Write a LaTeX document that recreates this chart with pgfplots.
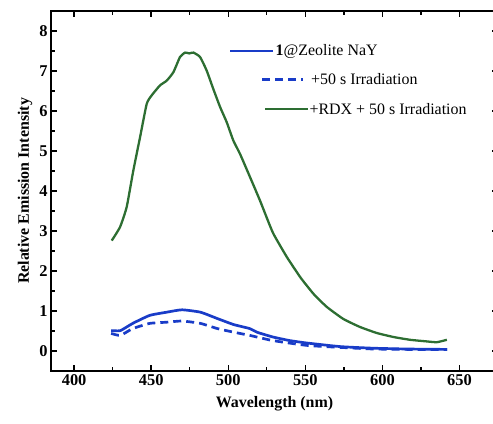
\documentclass[border=0pt]{standalone}
\usepackage{pgfplots}
\pgfplotsset{compat=1.18}
\usepackage{fontspec}
\setmainfont{Liberation Serif}

\definecolor{specblue}{RGB}{25,60,200}
\definecolor{specgreen}{RGB}{45,110,50}

\begin{document}
\begin{tikzpicture}[x=1bp,y=1bp]
\useasboundingbox (0,0) rectangle (493,423);
\begin{axis}[
  at={(51bp,52bp)}, anchor=south west,
  scale only axis, width=447bp, height=360bp,
  xmin=385, xmax=675, ymin=-0.5, ymax=8.5,
  xtick={400,450,...,650}, ytick={0,1,...,8},
  minor x tick num=1, minor y tick num=1,
  tick align=inside, tick pos=both,
  major tick length=6bp, minor tick length=4bp,
  every tick/.style={black, line width=1.4pt},
  axis line style={line width=2pt},
  /pgf/number format/assume math mode=true,
  tick label style={font=\bfseries\fontsize{16.5}{18}\selectfont},
  label style={font=\bfseries\fontsize{16}{18}\selectfont},
  xlabel={Wavelength (nm)},
  ylabel={Relative Emission Intensity},
  xlabel style={yshift=-4bp},
  ylabel style={yshift=0bp},
]
% RDX + 50 s irradiation
\addplot[specgreen, line width=2.3pt, smooth, tension=0.3] coordinates {
(424.4,2.76) (429.8,3.10) (434.1,3.60) (438.4,4.51) (442.8,5.35) (447.1,6.18)
(450.3,6.39) (455.7,6.64) (460.1,6.76) (464.4,6.97) (468.7,7.35) (472,7.46)
(474.7,7.44) (477.4,7.46) (481.7,7.35) (486,7.01) (490.3,6.55) (494.7,6.10)
(499,5.72) (503.3,5.26) (507.6,4.93) (514.1,4.35) (520.6,3.76) (525,3.33)
(529.3,2.93) (538,2.35) (547,1.83) (555.5,1.42) (564,1.10) (574.7,0.80)
(585.5,0.60) (596.4,0.45) (607.2,0.35) (618,0.28) (628.8,0.24) (635.3,0.22)
(641.8,0.28)
};
% 1@Zeolite NaY
\addplot[specblue, line width=2.7pt, smooth, tension=0.3] coordinates {
(424,0.51) (430,0.51) (438,0.69) (449,0.89) (460,0.97) (470,1.03)
(482,0.97) (493,0.81) (503.6,0.66) (514,0.56) (518.6,0.47) (529,0.35)
(540,0.26) (551,0.20) (572.7,0.11) (594,0.07) (616,0.05) (642,0.04)
};
% +50 s irradiation
\addplot[specblue, line width=2.7pt, dash pattern=on 8bp off 5bp, smooth, tension=0.3] coordinates {
(424,0.44) (430,0.39) (438,0.56) (449,0.69) (460,0.72) (470,0.75)
(482,0.69) (493,0.56) (503.6,0.47) (514,0.39) (529,0.26) (551,0.14)
(572.7,0.09) (594,0.05) (616,0.04) (642,0.04)
};
% key
\draw[specblue, line width=2.7pt] (axis cs:501.2,7.50) -- (axis cs:529.1,7.50);
\node[anchor=west, inner sep=1bp, font=\fontsize{16}{18}\selectfont] at (axis cs:530,7.50) {\textbf{1}@Zeolite NaY};
\draw[specblue, line width=2.7pt, dash pattern=on 8bp off 5bp] (axis cs:521.9,6.79) -- (axis cs:548.5,6.79);
\node[anchor=west, inner sep=1bp, font=\fontsize{16}{18}\selectfont] at (axis cs:553,6.79) {+50 s Irradiation};
\draw[specgreen, line width=2.3pt] (axis cs:523.9,6.05) -- (axis cs:551.8,6.05);
\node[anchor=west, inner sep=1bp, font=\fontsize{16}{18}\selectfont] at (axis cs:552,6.05) {+RDX + 50 s Irradiation};
\end{axis}
\end{tikzpicture}
\end{document}
